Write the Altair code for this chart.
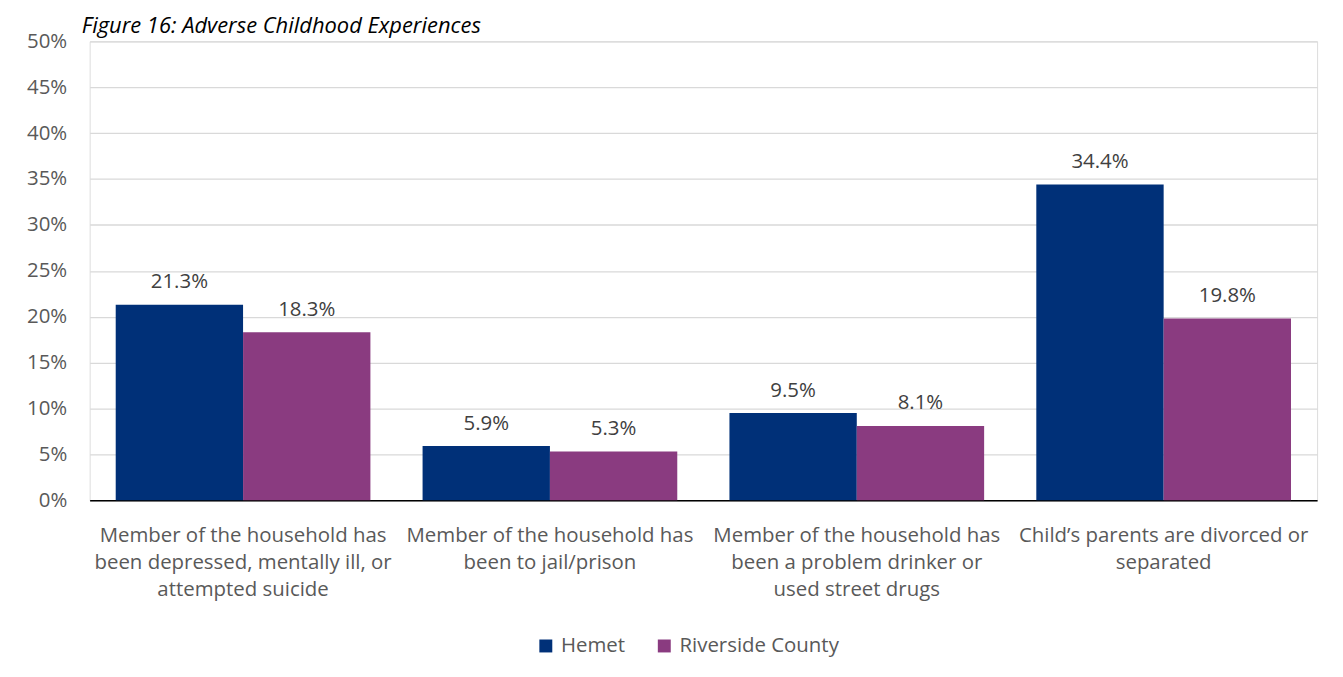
import altair as alt
import pandas as pd

categories = [
    "Member of the household has|been depressed, mentally ill, or|attempted suicide",
    "Member of the household has|been to jail/prison",
    "Member of the household has|been a problem drinker or|used street drugs",
    "Child\u2019s parents are divorced or|separated",
]
series = ["Hemet", "Riverside County"]
hemet = [0.213, 0.059, 0.095, 0.344]
riverside = [0.183, 0.053, 0.081, 0.198]
colors = ["#003078", "#8A3B80"]
y_ticks = [0, 0.05, 0.10, 0.15, 0.20, 0.25, 0.30, 0.35, 0.40, 0.45, 0.50]

rows = []
for c, h, r in zip(categories, hemet, riverside):
    rows.append({"cat": c, "series": series[0], "value": h})
    rows.append({"cat": c, "series": series[1], "value": r})
df = pd.DataFrame(rows)

FONT = "Open Sans"

x = alt.X(
    "cat:N",
    sort=categories,
    scale=alt.Scale(paddingInner=0.17, paddingOuter=0.085),
    axis=alt.Axis(
        title=None,
        labelAngle=0,
        labelExpr="split(datum.label, '|')",
        labelLineHeight=27.5,
        labelPadding=25,
        labelFontSize=20.5,
        labelFont=FONT,
        labelColor="#595959",
        labelLimit=400,
        ticks=False,
        domainColor="#000000",
        domainWidth=1.3,
        grid=False,
        labelBaseline="top",
    ),
)
xo = alt.XOffset("series:N", sort=series, scale=alt.Scale(paddingInner=0, paddingOuter=0))
y = alt.Y(
    "value:Q",
    scale=alt.Scale(domain=[0, 0.5], nice=False),
    axis=alt.Axis(
        title=None,
        format=".0%",
        values=y_ticks,
        domain=False,
        ticks=False,
        labelPadding=23,
        labelFontSize=20.5,
        labelFont=FONT,
        labelColor="#595959",
        gridColor="#d9d9d9",
        gridWidth=1.3,
    ),
)

base = alt.Chart(df)

bars = base.mark_bar().encode(
    x=x,
    xOffset=xo,
    y=y,
    color=alt.Color(
        "series:N",
        sort=series,
        scale=alt.Scale(domain=series, range=colors),
        legend=alt.Legend(
            title=None,
            orient="none",
            direction="horizontal",
            legendX=448,
            legendY=597,
            symbolType="square",
            symbolSize=169,
            symbolStrokeWidth=0,
            labelFontSize=20.5,
            labelFont=FONT,
            labelColor="#595959",
            labelOffset=5,
            labelLimit=400,
            columnPadding=29,
        ),
    ),
)

labels = base.mark_text(
    baseline="alphabetic", dy=-16.5, fontSize=20.5, font=FONT, color="#404040"
).encode(
    x=x,
    xOffset=xo,
    y=alt.Y("value:Q"),
    text=alt.Text("value:Q", format=".1%"),
)

chart = (
    alt.layer(bars, labels)
    .properties(
        width=1233,
        height=461,
        autosize=alt.AutoSizeParams(type="none"),
        padding={"left": 82, "top": 32, "right": 18, "bottom": 164},
        title=alt.TitleParams(
            text="Figure 16: Adverse Childhood Experiences",
            anchor="start",
            frame="group",
            font=FONT,
            fontSize=22,
            fontStyle="italic",
            fontWeight="normal",
            color="#000000",
            baseline="alphabetic",
            offset=-24,
            dx=-8,
        ),
    )
    .configure_view(stroke=None)
    .configure(background="white")
)

chart.save("out.html", embed_options={"renderer": "svg", "actions": False})
